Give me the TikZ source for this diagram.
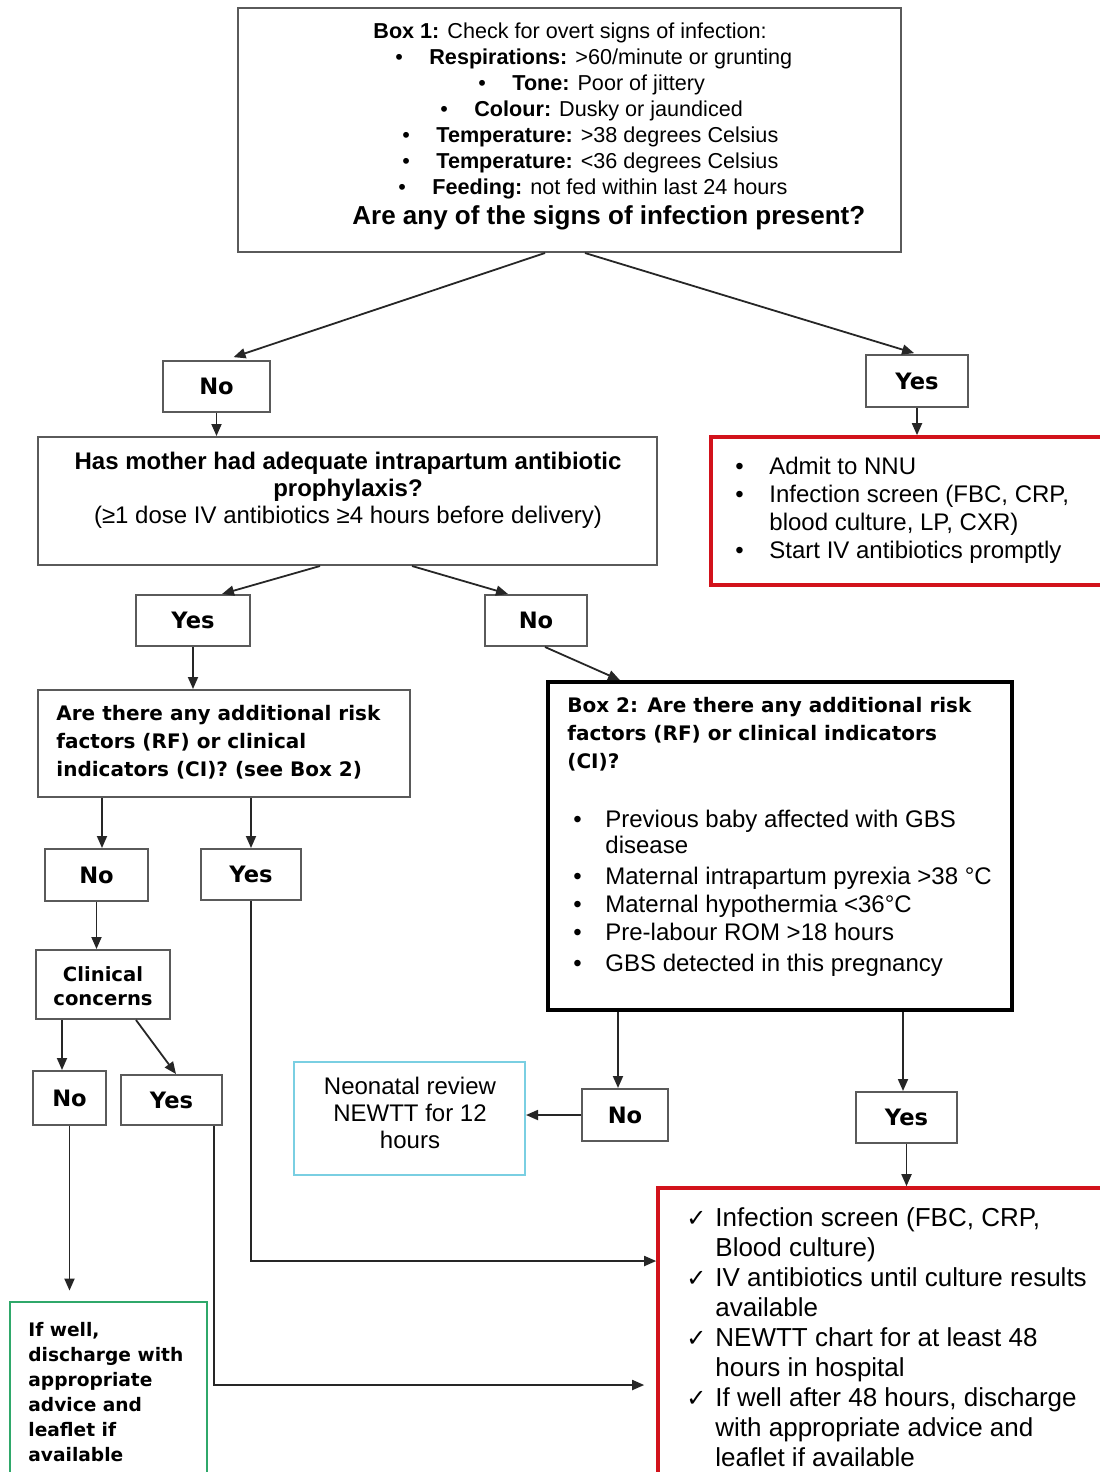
\documentclass[tikz,border=0pt]{standalone}
\usepackage{fontspec}
\setmainfont{Liberation Sans}
\newfontfamily\dvfont{DejaVu Sans}
\usetikzlibrary{arrows.meta,fit,calc}
\definecolor{boxgray}{HTML}{5A5A5A}
\definecolor{redbox}{HTML}{D2121B}
\definecolor{greenbox}{HTML}{2FA86A}
\definecolor{cyanbox}{HTML}{7ACFE2}
\tikzset{
  graybox/.style={draw=boxgray, line width=1pt, inner sep=0pt, rectangle},
  ynbox/.style={graybox, font=\dvfont\bfseries\fontsize{11.3}{13}\selectfont},
  thickbox/.style={draw=black, line width=1.8pt, inner sep=0pt, rectangle},
  redframe/.style={draw=redbox, line width=1.8pt, inner sep=0pt, rectangle},
  greenframe/.style={draw=greenbox, line width=1.4pt, inner sep=0pt, rectangle},
  cyanframe/.style={draw=cyanbox, line width=1pt, inner sep=0pt, rectangle},
  txt/.style={inner sep=0pt, anchor=north west, align=left},
  arr/.style={draw=black!85, line width=0.9pt, -{Triangle[length=6pt,width=5pt]}}
}
\newcommand{\bul}[1][17pt]{\makebox[#1][l]{•}}
\newcommand{\chk}{\makebox[14.5pt][l]{\dvfont\fontsize{12}{12}\selectfont ✓}}
\begin{document}
\begin{tikzpicture}[x=0.5pt,y=-0.5pt]
\useasboundingbox (0,0) rectangle (1099,1472);
% boxes
\node[graybox, fit={(238,8)(901,252)}] (box1) {};
\node[ynbox, minimum width=53.5pt, minimum height=25.5pt] (no1) at (216.5,386.5) {No};
\node[ynbox, minimum width=51pt, minimum height=26pt] (yes1) at (917,381) {Yes};
\node[redframe, fit={(711,437)(1106,585)}] (red1) {};
\node[graybox, fit={(38,437)(657,565)}] (mother) {};
\node[ynbox, minimum width=57pt, minimum height=25.5pt] (yes2) at (193,620.5) {Yes};
\node[ynbox, minimum width=51pt, minimum height=25.5pt] (no2) at (536,620.5) {No};
\node[graybox, fit={(38,690)(410,797)}] (riskL) {};
\node[thickbox, fit={(548,682)(1012,1010)}] (box2) {};
\node[ynbox, minimum width=51.5pt, minimum height=26pt] (no3) at (96.5,875) {No};
\node[ynbox, minimum width=50pt, minimum height=25.5pt] (yes3) at (251,874.5) {Yes};
\node[graybox, fit={(36,950)(170,1019)}] (clin) {};
\node[ynbox, minimum width=36.5pt, minimum height=27pt] (no4) at (69.5,1098) {No};
\node[ynbox, minimum width=50.5pt, minimum height=25pt] (yes4) at (171.5,1100) {Yes};
\node[cyanframe, fit={(294,1062)(525,1175)}] (neo) {};
\node[ynbox, minimum width=43pt, minimum height=26pt] (no5) at (625,1115) {No};
\node[ynbox, minimum width=50.5pt, minimum height=25.5pt] (yes5) at (906.5,1117.5) {Yes};
\node[redframe, fit={(658,1188)(1106,1480)}] (red2) {};
\node[greenframe, fit={(10,1302)(207,1480)}] (green) {};

% texts
\node[txt, font=\fontsize{10.8}{13}\selectfont] (box1text) at (352,22) {%
\hspace*{10.5pt}\textbf{Box 1:} Check for overt signs of infection:\\
\hspace*{21.5pt}\bul\textbf{Respirations:} >60/minute or grunting\\
\hspace*{63pt}\bul\textbf{Tone:} Poor of jittery\\
\hspace*{44pt}\bul\textbf{Colour:} Dusky or jaundiced\\
\hspace*{25pt}\bul\textbf{Temperature:} >38 degrees Celsius\\
\hspace*{25pt}\bul\textbf{Temperature:} <36 degrees Celsius\\
\hspace*{23pt}\bul\textbf{Feeding:} not fed within last 24 hours\\[2pt]
{\fontsize{13}{15}\selectfont\bfseries Are any of the signs of infection present?}};

\node[txt, font=\fontsize{12}{14}\selectfont] (red1text) at (735,457) {%
\bul Admit to NNU\\
\bul Infection screen (FBC, CRP,\\
\hspace*{17pt}blood culture, LP, CXR)\\
\bul Start IV antibiotics promptly};

\node[inner sep=0pt, anchor=north, align=center, font=\bfseries\fontsize{12}{13.5}\selectfont] (mothertext) at (348,452) {%
Has mother had adequate intrapartum antibiotic\\
prophylaxis?\\
{\mdseries (≥1 dose IV antibiotics ≥4 hours before delivery)}};

\node[txt, font=\dvfont\bfseries\fontsize{10}{14}\selectfont] (riskLtext) at (56,705) {%
Are there any additional risk\\
factors (RF) or clinical\\
indicators (CI)? (see Box 2)};

\node[txt, font=\dvfont\bfseries\fontsize{10}{14}\selectfont] (box2head) at (567,697) {%
Box 2: Are there any additional risk\\
factors (RF) or clinical indicators\\
(CI)?};

\node[txt, font=\fontsize{12}{14}\selectfont] (box2list) at (573,810) {%
\bul[16pt]Previous baby affected with GBS\\[-1pt]
\hspace*{16pt}disease\\[1.5pt]
\bul[16pt]Maternal intrapartum pyrexia >38 °C\\
\bul[16pt]Maternal hypothermia <36°C\\
\bul[16pt]Pre-labour ROM >18 hours\\[1.5pt]
\bul[16pt]GBS detected in this pregnancy};

\node[inner sep=0pt, anchor=north, align=center, font=\dvfont\bfseries\fontsize{9.8}{12}\selectfont] (clintext) at (103,966) {Clinical\\concerns};

\node[txt, font=\dvfont\bfseries\fontsize{9.3}{12.5}\selectfont] (greentext) at (28,1322) {%
If well,\\discharge with\\appropriate\\advice and\\leaflet if\\available};

\node[inner sep=0pt, anchor=north, align=center, font=\fontsize{12}{13.5}\selectfont] (neotext) at (410,1077) {%
Neonatal review\\NEWTT for 12\\hours};

\node[txt, font=\fontsize{13}{15}\selectfont] (red2text) at (686,1207) {%
\chk Infection screen (FBC, CRP,\\
\hspace*{14.5pt}Blood culture)\\
\chk IV antibiotics until culture results\\
\hspace*{14.5pt}available\\
\chk NEWTT chart for at least 48\\
\hspace*{14.5pt}hours in hospital\\
\chk If well after 48 hours, discharge\\
\hspace*{14.5pt}with appropriate advice and\\
\hspace*{14.5pt}leaflet if available};

% connectors
\draw[arr, shorten >=4.5pt] ([xshift=-12.25pt]box1.south) -- ([xshift=4.25pt]no1.north);
\draw[arr, shorten >=1.5pt] ([xshift=7.75pt]box1.south) -- (yes1.north);
\draw[arr] (no1.south) -- (no1.south |- mother.north);
\draw[arr] (yes1.south) -- (yes1.south |- red1.north);
\draw[arr] ([xshift=-13.75pt]mother.south) -- ([xshift=14.5pt]yes2.north);
\draw[arr] ([xshift=32.25pt]mother.south) -- ([xshift=-14pt]no2.north);
\draw[arr] (yes2.south) -- (yes2.south |- riskL.north);
\draw[arr] ([xshift=4.5pt]no2.south) -- ([xshift=-80pt]box2.north);
\draw[arr] ([xshift=2.75pt]no3.north |- riskL.south) -- ([xshift=2.75pt]no3.north);
\draw[arr] (riskL.south -| yes3.north) -- (yes3.north);
\draw[arr] (no3.south) -- (no3.south |- clin.north);
\draw[arr] ([xshift=-3.75pt]no4.north |- clin.south) -- ([xshift=-3.75pt]no4.north);
\draw[arr] ([xshift=16.5pt]clin.south) -- ([xshift=2.25pt]yes4.north);
\draw[arr, shorten >=5pt] (no4.south) -- (no4.south |- green.north);
\draw[arr, shorten >=6pt] ([xshift=21.25pt]yes4.south) |- ([yshift=-25.5pt]red2.west);
\draw[arr] (yes3.south) |- ([yshift=36.5pt]red2.west);
\draw[arr] ([xshift=-3.5pt]no5.north |- box2.south) -- ([xshift=-3.5pt]no5.north);
\draw[arr] ([xshift=-1.75pt]yes5.north |- box2.south) -- ([xshift=-1.75pt]yes5.north);
\draw[arr] (no5.west) -- (no5.west -| neo.east);
\draw[arr] (yes5.south) -- (yes5.south |- red2.north);
\end{tikzpicture}
\end{document}
